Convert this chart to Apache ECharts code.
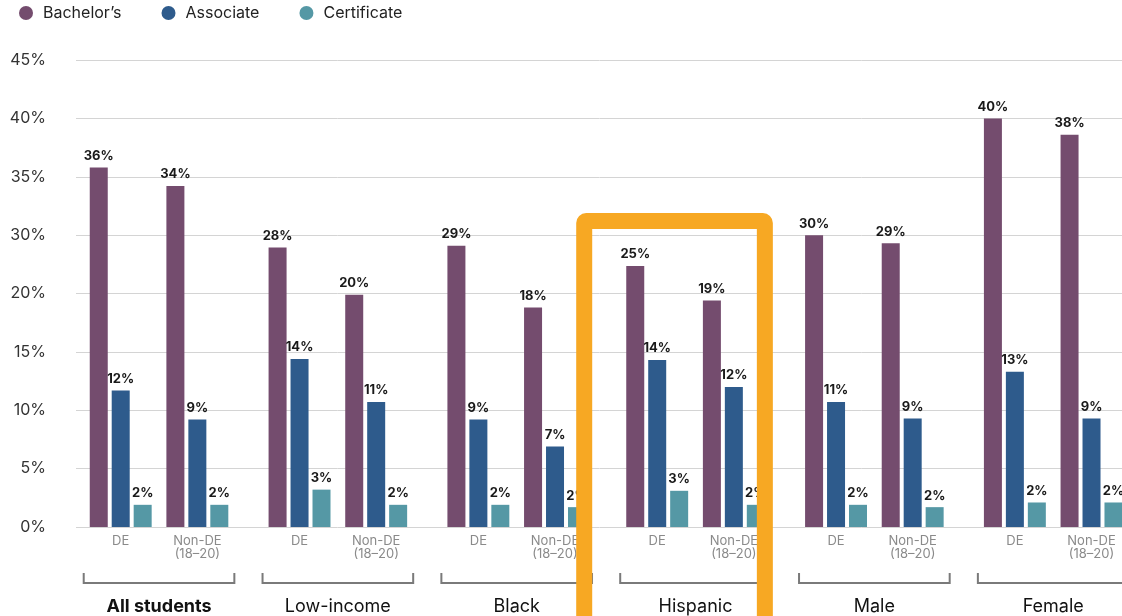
<!DOCTYPE html>
<html>
<head>
<meta charset="utf-8">
<script src="https://cdn.jsdelivr.net/npm/echarts@6/dist/echarts.min.js"></script>
<style>
  html, body { margin: 0; padding: 0; background: #ffffff; }
  #chart { width: 1122px; height: 616px; }
</style>
</head>
<body>
<div id="chart"></div>
<script>
// ---- data ----
var groups = ['All students', 'Low-income', 'Black', 'Hispanic', 'Male', 'Female'];
var subCategories = ['DE', 'Non-DE\n(18–20)'];
var seriesNames = ["Bachelor’s", 'Associate', 'Certificate'];
// bar heights (order: per group DE, Non-DE)
var bachelors   = [35.8, 34.2, 27.9, 19.9, 28.2, 18.8, 24.7, 19.4, 30.0, 28.6, 40.0, 38.6];
var associate   = [11.7, 9.2, 14.4, 10.7, 9.2, 6.9, 14.3, 12.0, 10.7, 9.3, 13.3, 9.3];
var certificate = [1.9, 1.9, 3.2, 1.9, 1.9, 1.7, 3.1, 1.9, 1.9, 1.7, 2.1, 2.1];
// printed labels
var bachelorsLabels   = [36, 34, 28, 20, 29, 18, 25, 19, 30, 29, 40, 38];
var associateLabels   = [12, 9, 14, 11, 9, 7, 14, 12, 11, 9, 13, 9];
var certificateLabels = [2, 2, 3, 2, 2, 2, 3, 2, 2, 2, 2, 2];
// y tick labels (axis is broken between 20% and 30%)
var yTickLabels = ['0%', '5%', '10%', '15%', '20%', '30%', '35%', '40%', '45%'];
var highlightGroup = 'Hispanic';

// ---- build ----
var FONT = 'Inter, "Liberation Sans", sans-serif';
var SLOTS = 14, DE_SLOT = 3, NONDE_SLOT = 9;
var colors = ['#744C6E', '#2E5B8C', '#5598A5'];

// broken-axis scale: 0-20 linear, 20-30 compressed to one tick, 30-45 linear
function axisPos(v) {
  if (v <= 20) return v;
  if (v <= 30) return 20 + (v - 20) / 2;
  return v - 5;
}

var categories = [];
var slotMap = {};
for (var g = 0; g < groups.length; g++) {
  for (var s = 0; s < SLOTS; s++) {
    var idx = g * SLOTS + s;
    if (s === DE_SLOT) { categories.push(subCategories[0]); slotMap[idx] = g * 2; }
    else if (s === NONDE_SLOT) { categories.push(subCategories[1]); slotMap[idx] = g * 2 + 1; }
    else categories.push('');
  }
}

function buildData(vals, labels) {
  return categories.map(function (c, i) {
    if (slotMap[i] === undefined) return null;
    var k = slotMap[i];
    return { value: axisPos(vals[k]), labelText: labels[k] + '%' };
  });
}

var valueSets = [[bachelors, bachelorsLabels], [associate, associateLabels], [certificate, certificateLabels]];
var barSeries = seriesNames.map(function (name, i) {
  return {
    name: name,
    type: 'bar',
    barWidth: 18,
    barGap: '22%',
    z: 2,
    itemStyle: { color: colors[i] },
    label: {
      show: true,
      position: 'top',
      distance: 5,
      fontFamily: FONT,
      fontSize: 13,
      fontWeight: 'bold',
      color: '#1a1a1a',
      formatter: function (p) { return p.data ? p.data.labelText : ''; }
    },
    data: buildData(valueSets[i][0], valueSets[i][1])
  };
});

var groupData = groups.map(function (name, i) { return [i * SLOTS + DE_SLOT, 0]; });

var annotationSeries = {
  type: 'custom',
  z: 10,
  silent: true,
  clip: false,
  data: groupData,
  renderItem: function (params, api) {
    var i = params.dataIndex;
    var deIdx = api.value(0);
    var x1 = api.coord([deIdx, 0])[0];
    var x2 = api.coord([deIdx + (NONDE_SLOT - DE_SLOT), 0])[0];
    var y0 = api.coord([deIdx, 0])[1];
    var children = [
      {
        type: 'polyline',
        shape: { points: [[x1 - 37, y0 + 46], [x1 - 37, y0 + 56], [x2 + 37, y0 + 56], [x2 + 37, y0 + 46]] },
        style: { stroke: '#7a7a7a', lineWidth: 2, fill: null }
      },
      {
        type: 'text',
        style: {
          x: (x1 + x2) / 2, y: y0 + 80,
          text: groups[i],
          align: 'center', verticalAlign: 'middle',
          fontFamily: FONT, fontSize: 18,
          fontWeight: i === 0 ? 'bold' : 'normal',
          fill: '#111'
        }
      }
    ];
    if (groups[i] === highlightGroup) {
      children.push({
        type: 'rect',
        shape: { x: x1 - 73, y: y0 - 306, width: (x2 + 31) - (x1 - 73), height: 450, r: 2 },
        style: { stroke: '#F7A823', lineWidth: 16, fill: null, lineJoin: 'round' }
      });
    }
    return { type: 'group', children: children };
  }
};

var chart = echarts.init(document.getElementById('chart'), null, { renderer: 'canvas' });
chart.setOption({
  animation: false,
  color: colors,
  legend: {
    left: 14, top: 0,
    icon: 'circle',
    itemWidth: 14, itemHeight: 14,
    itemGap: 40,
    textStyle: { fontFamily: FONT, fontSize: 16, color: '#222', padding: [0, 0, 0, 5] },
    data: seriesNames
  },
  grid: { left: 76, width: 1073, top: 60, bottom: 89, containLabel: false, outerBoundsMode: 'none' },
  xAxis: {
    type: 'category',
    data: categories,
    axisLine: { show: false },
    axisTick: { show: false },
    axisLabel: {
      interval: 0,
      margin: 8,
      fontFamily: FONT,
      fontSize: 13,
      lineHeight: 13,
      color: '#8a8a8a'
    }
  },
  yAxis: {
    type: 'value',
    min: 0, max: 40, interval: 5,
    axisLine: { show: false },
    axisTick: { show: false },
    splitLine: { lineStyle: { color: '#d4d4d4', width: 1 } },
    axisLabel: {
      margin: 30,
      fontFamily: FONT,
      fontSize: 16,
      color: '#333',
      formatter: function (v) { return yTickLabels[Math.round(v / 5)]; }
    }
  },
  series: barSeries.concat([annotationSeries])
});
</script>
</body>
</html>
